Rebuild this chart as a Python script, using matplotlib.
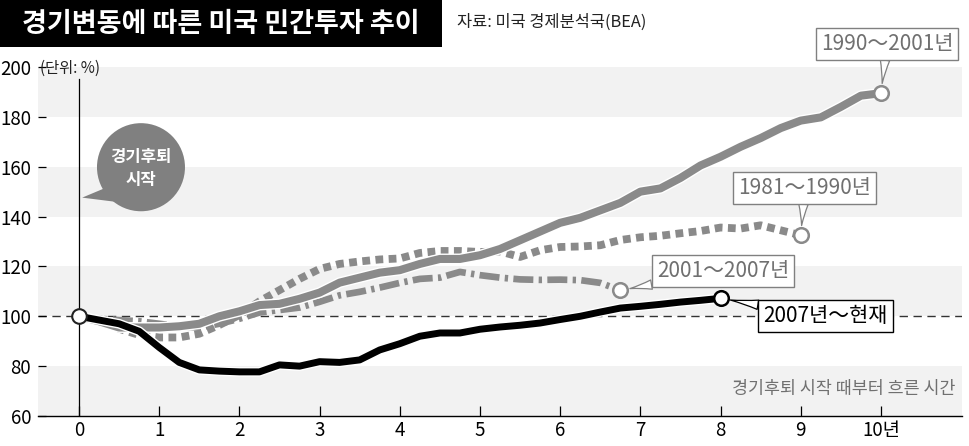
import matplotlib
matplotlib.use("Agg")
import matplotlib.pyplot as plt
import matplotlib.patches as mpatches
import matplotlib.patheffects as pe
import numpy as np

plt.rcParams['font.family'] = ['Noto Sans CJK KR', 'DejaVu Sans']

# ---------------- data ----------------
title = "경기변동에 따른 미국 민간투자 추이"
source = "자료: 미국 경제분석국(BEA)"
unit = "(단위: %)"
xlabel = "경기후퇴 시작 때부터 흐른 시간"
bubble = "경기후퇴\n시작"

step = 0.25
s1990 = [100, 98, 95.5, 95.5, 95.5, 96, 97, 100, 102, 104.5, 105, 107, 109.5, 113.5,
         115.5, 117.5, 118.5, 121, 123, 123, 124.5, 127, 130.5, 134, 137.5, 139.5,
         142.5, 145.5, 150, 151.3, 155.5, 160.5, 164, 168, 171.5, 175.5, 178.5, 179.8,
         184, 188.5, 189.5]
s1981 = [100, 98, 95, 92.5, 91.5, 91.5, 93, 96.5, 100.5, 106, 110.5, 115, 119, 121,
         122, 122.8, 123.2, 125.4, 126.2, 126.2, 125.8, 126, 123.8, 126.5, 127.8, 128,
         128.5, 130.6, 131.7, 132.3, 133.3, 134.2, 135.6, 135.2, 136.5, 134.5, 132.5]
s2001 = [100, 99, 98.5, 98, 97, 96, 95.5, 97, 99, 101.5, 102.5, 103.5, 105.8, 108.4,
         109.8, 111.5, 113.4, 115, 115.5, 117.8, 116.5, 115.5, 114.8, 114.6, 114.7,
         114.5, 113.4, 110.4]
s2007 = [100, 98.5, 97, 94, 87.5, 81.5, 78.5, 78, 77.7, 77.7, 80.5, 80, 81.8, 81.5,
         82.5, 86.5, 89, 92, 93.3, 93.3, 94.8, 95.7, 96.4, 97.3, 98.7, 100, 101.7,
         103.3, 104, 104.8, 105.7, 106.4, 107.2]

series_labels = ["1990～2001년", "1981～1990년", "2001～2007년", "2007년～현재"]
xticks = list(range(0, 11))
xticklabels = [str(i) for i in range(10)] + ["10년"]
yticks = [60, 80, 100, 120, 140, 160, 180, 200]

# ---------------- figure ----------------
W, H = 970, 446
fig = plt.figure(figsize=(W / 100, H / 100), dpi=100)
ax = fig.add_axes([38 / W, (H - 416) / H, (962 - 38) / W, (416 - 67) / H])
ax.set_xlim(-0.511, 11.01)
ax.set_ylim(60, 200)

# bands
for lo in [60, 100, 140, 180]:
    ax.axhspan(lo, lo + 20, color='#f2f2f2', lw=0, zorder=0)

ax.axhline(100, color='#333333', lw=1.0, dashes=(6, 4), zorder=1)
ax.plot([0, 0], [60, 195], color='black', lw=0.9, zorder=1)

gray = '#8a8a8a'
halo = lambda w: [pe.Stroke(linewidth=w + 2, foreground='white'), pe.Normal()]

def xs(vals):
    return np.arange(len(vals)) * step

ax.plot(xs(s1981), s1981, color=gray, lw=5.6, dash_capstyle='butt', zorder=2,
        linestyle=(0, (1.0, 0.7)))
ax.plot(xs(s2001), s2001, color=gray, lw=4.8, dash_capstyle='butt', zorder=3,
        linestyle=(0, (3.0, 0.8, 0.5, 0.8)))
ax.plot(xs(s1990), s1990, color=gray, lw=5.8, solid_joinstyle='round', zorder=4,
        path_effects=halo(5.8))
ax.plot(xs(s2007), s2007, color='black', lw=5.0, solid_joinstyle='round', zorder=5,
        path_effects=halo(5.0))

# end markers
for vals, ec in [(s1990, gray), (s1981, gray), (s2001, gray), (s2007, 'black')]:
    ax.plot(xs(vals)[-1], vals[-1], 'o', ms=10.5, mfc='white', mec=ec, mew=1.8, zorder=6)
ax.plot(0, s2007[0], 'o', ms=10.5, mfc='white', mec='#222222', mew=1.5, zorder=7)

# callout labels
def callout(vals, label, dx, dy, tc, ec):
    x, y = xs(vals)[-1], vals[-1]
    ax.annotate(label, xy=(x, y), xytext=(dx, dy), textcoords='offset points',
                ha='center', va='center', fontsize=15, color=tc, zorder=8,
                bbox=dict(boxstyle='square,pad=0.24', fc='white', ec=ec, lw=1.0),
                arrowprops=dict(arrowstyle='wedge,tail_width=0.45,shrink_factor=0.4',
                                fc='white', ec=ec, lw=0.9, shrinkA=0, shrinkB=7))

callout(s1990, series_labels[0], 4.3, 35.6, '#707070', '#808080')
callout(s1981, series_labels[1], 2.9, 34.2, '#707070', '#808080')
callout(s2001, series_labels[2], 74, 13.7, '#707070', '#808080')
callout(s2007, series_labels[3], 75.6, -13, 'black', 'black')

# bubble
bx, by = 0.773, 159.8
ax.add_patch(mpatches.Polygon([(0.33, 151.5), (0.56, 145.5), (0.04, 147.6)],
                              closed=True, fc='#808080', ec='none', zorder=8))
ax.add_patch(mpatches.Ellipse((bx, by), 88 / 80.2, 88 / 2.49, fc='#808080',
                              ec='none', zorder=8))
ax.text(bx, by - 0.5, bubble, ha='center', va='center', color='white',
        fontsize=12, fontweight='bold', linespacing=1.35, zorder=9)

# axis text
ax.text(10.93, 71, xlabel, ha='right', va='center', fontsize=12.5, color='#707070')

# axes styling
for sp in ['left', 'right', 'top']:
    ax.spines[sp].set_visible(False)
ax.spines['bottom'].set_color('black')
ax.spines['bottom'].set_linewidth(1.0)
ax.spines['bottom'].set_zorder(10)
ax.set_xticks(xticks)
ax.set_xticklabels(xticklabels)
ax.set_yticks(yticks)
ax.set_yticklabels([str(v) for v in yticks])
ax.tick_params(axis='x', direction='in', length=7, width=0.9, pad=3, labelsize=13.5)
ax.tick_params(axis='y', direction='in', length=6, width=0.9, pad=5, labelsize=13.5)

# title & source
fig.patches.append(mpatches.Rectangle((0, 1 - 47 / H), 442 / W, 47 / H,
                                      transform=fig.transFigure, fc='black', ec='none'))
fig.text(221 / W, 1 - 24 / H, title, ha='center', va='center', color='white',
         fontsize=19.5, fontweight='bold')
fig.text(457 / W, 1 - 22 / H, source, ha='left', va='center', color='#222222',
         fontsize=11.8)
fig.text(40 / W, 1 - 68 / H, unit, ha='left', va='center', color='#222222', fontsize=11)

fig.savefig("out.png", dpi=100)
